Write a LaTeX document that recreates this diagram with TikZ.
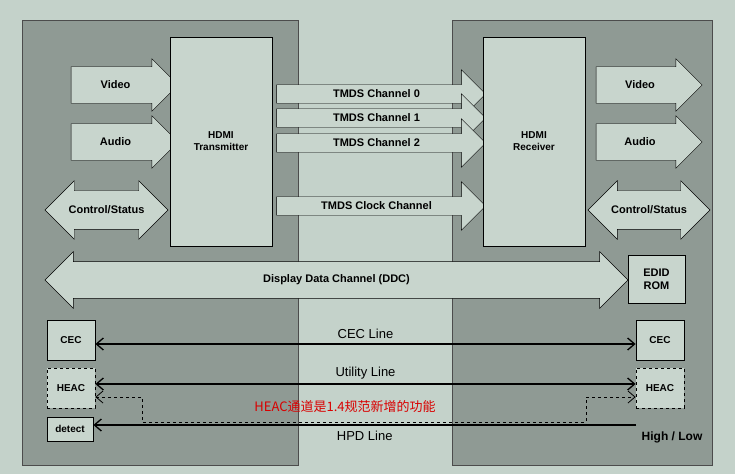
\documentclass[tikz,border=0pt]{standalone}
\usepackage{fontspec}
\setmainfont{Liberation Sans}
\newfontfamily\cjk{Noto Sans CJK SC}
\usetikzlibrary{shapes.arrows,positioning,arrows.meta}
\definecolor{bgc}{HTML}{C4D2CA}
\definecolor{panelc}{HTML}{8F9A94}
\definecolor{boxc}{HTML}{C8D5CD}

\begin{document}
\begin{tikzpicture}[x=1pt, y=-1pt,
    every node/.style={font=\bfseries\fontsize{10}{12}\selectfont},
    block/.style={draw, thick, fill=boxc, inner sep=0pt},
    fat/.style={single arrow, draw, fill=boxc, minimum height=#1, minimum width=46pt, single arrow head extend=8pt, inner xsep=1pt, inner ysep=14pt, anchor=center, font=\bfseries\fontsize{11}{12}\selectfont},
    fatboth/.style={double arrow, draw, fill=boxc, minimum height=#1, minimum width=56pt, double arrow head extend=10pt, inner xsep=1pt, inner ysep=15pt, anchor=center, font=\bfseries\fontsize{11}{12}\selectfont},
    tmds/.style={single arrow, draw, fill=boxc, minimum height=209pt, minimum width=48pt, single arrow head extend=15pt, single arrow tip angle=90, inner xsep=1pt, inner ysep=5pt, anchor=center, font=\bfseries\fontsize{11}{12}\selectfont},
    line/.style={line width=1.3pt, {Straight Barb[length=7pt,width=12pt]}-{Straight Barb[length=7pt,width=12pt]}},
    lbl/.style={font=\fontsize{13}{14}\selectfont}]
    \useasboundingbox[fill=bgc] (0,0) rectangle (735,474);
    \fill[panelc, draw=black!70] (22,20) rectangle (298,465);
    \fill[panelc, draw=black!70] (452,20) rectangle (712,465);

    % inputs and outputs
    \node[fat=107pt] (vin) at (115.5,85) {Video};
    \node[fat=107pt] (ain) at (115.5,142) {Audio};
    \node[fatboth=123pt] (csin) at (106.5,210) {Control/Status};
    \node[fat=106pt] (vout) at (640,85) {Video};
    \node[fat=106pt] (aout) at (640,142) {Audio};
    \node[fatboth=122pt] (csout) at (649,210) {Control/Status};

    % TMDS links
    \node[tmds] (ch0) at (376.5,94) {TMDS Channel 0};
    \node[tmds] (ch1) at (376.5,118) {TMDS Channel 1};
    \node[tmds] (ch2) at (376.5,143) {TMDS Channel 2};
    \node[tmds] (clk) at (376.5,206) {TMDS Clock Channel};

    \node[block, minimum width=102pt, minimum height=209pt] (tx) at (221,141.5) {};
    \node[align=center] at (tx) {HDMI\\Transmitter};
    \node[block, minimum width=102pt, minimum height=209pt] (rx) at (534,141.5) {};
    \node[align=center] at (rx) {HDMI\\Receiver};

    % DDC
    \node[block, minimum width=57pt, minimum height=48pt, align=center, font=\bfseries\fontsize{11}{13}\selectfont] (edid) at (656.5,279) {EDID\\ROM};
    \node[double arrow, draw, fill=boxc, minimum height=583pt, minimum width=50pt, double arrow head extend=10pt, inner xsep=1pt, inner ysep=13pt, font=\fontsize{11}{12}\selectfont\bfseries] (ddc) at (336.5,280) {Display Data Channel (DDC)};

    % low speed lines
    \node[block, minimum width=48pt, minimum height=40pt] (cecl) at (71,340) {CEC};
    \node[block, minimum width=48pt, minimum height=40pt] (cecr) at (660,340) {CEC};
    \node[block, dashed, minimum width=48pt, minimum height=40pt] (heacl) at (71,388) {HEAC};
    \node[block, dashed, minimum width=48pt, minimum height=40pt] (heacr) at (660,388) {HEAC};
    \node[block, minimum width=46pt, minimum height=24pt] (det) at (70,429) {detect};
    \coordinate (hpd) at (636,425);

    \draw[line] (cecl.east |- 0,344) -- node[lbl, above=1pt] {CEC Line} (cecr.west |- 0,344);
    \draw[line] (heacl.east |- 0,384) -- node[lbl, above=1pt] {Utility Line} (heacr.west |- 0,384);
    \draw[line width=1.3pt, -{Straight Barb[length=7pt,width=12pt]}] (hpd) -- node[lbl, below=2pt] {HPD Line} (det.east |- hpd);
    \draw[thick, dashed, {Straight Barb[length=7pt,width=12pt]}-{Straight Barb[length=7pt,width=12pt]}]
        (heacl.east |- 0,397) -- (142,397) -- (142,422) -- (586,422) -- (586,397) -- (heacr.west |- 0,397);
    \node[font=\cjk\fontsize{13}{14}\selectfont, text=red!85!black] (note) at (345,407) {HEAC通道是1.4规范新增的功能};
    \node[font=\fontsize{12}{13}\selectfont\bfseries] (hl) at (672,437) {High / Low};
\end{tikzpicture}
\end{document}
